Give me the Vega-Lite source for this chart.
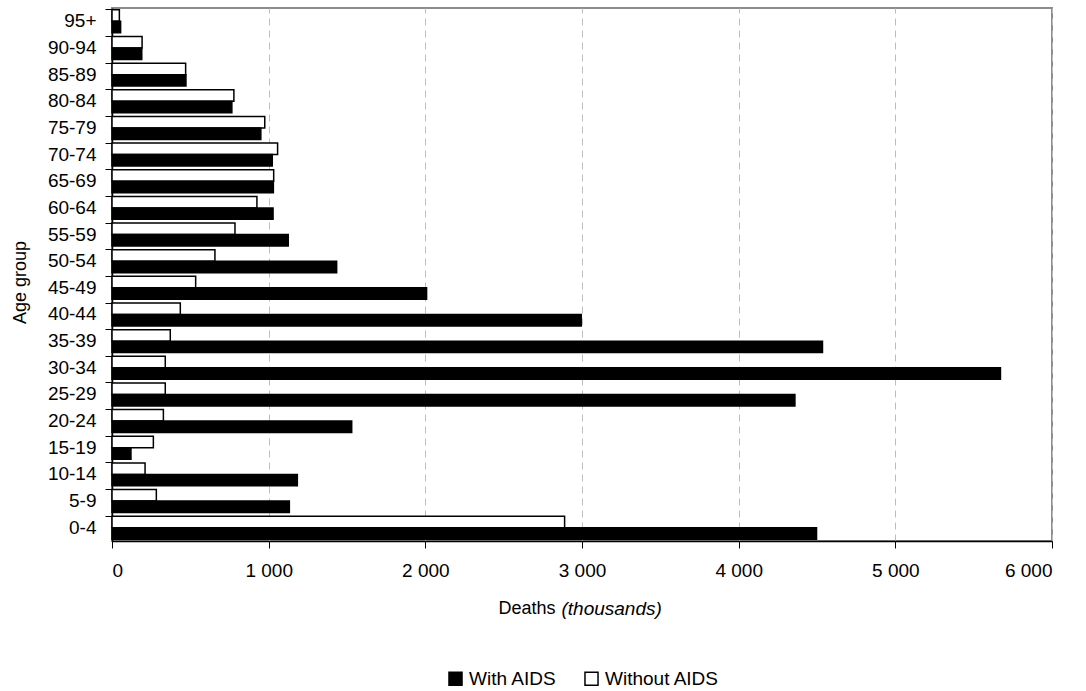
{
  "$schema": "https://vega.github.io/schema/vega-lite/v6.json",
  "width": 940,
  "height": 533,
  "autosize": {"type": "none"},
  "padding": {"left": 112, "top": 8, "right": 34, "bottom": 150},
  "background": "white",
  "config": {
    "font": "Liberation Sans",
    "view": {"stroke": "#8c8c8c", "strokeWidth": 2},
    "axis": {"labelFont": "Liberation Sans", "titleFont": "Liberation Sans", "labelColor": "black", "titleColor": "black", "labelFontSize": 19, "titleFontSize": 18, "titleFontWeight": "normal"}
  },
  "data": {
    "values": [
      {"group": "95+", "type": "Without AIDS", "value": 47},
      {"group": "95+", "type": "With AIDS", "value": 55},
      {"group": "90-94", "type": "Without AIDS", "value": 192},
      {"group": "90-94", "type": "With AIDS", "value": 190},
      {"group": "85-89", "type": "Without AIDS", "value": 470},
      {"group": "85-89", "type": "With AIDS", "value": 472},
      {"group": "80-84", "type": "Without AIDS", "value": 778},
      {"group": "80-84", "type": "With AIDS", "value": 765},
      {"group": "75-79", "type": "Without AIDS", "value": 975},
      {"group": "75-79", "type": "With AIDS", "value": 950},
      {"group": "70-74", "type": "Without AIDS", "value": 1057},
      {"group": "70-74", "type": "With AIDS", "value": 1023},
      {"group": "65-69", "type": "Without AIDS", "value": 1032},
      {"group": "65-69", "type": "With AIDS", "value": 1030},
      {"group": "60-64", "type": "Without AIDS", "value": 925},
      {"group": "60-64", "type": "With AIDS", "value": 1028},
      {"group": "55-59", "type": "Without AIDS", "value": 785},
      {"group": "55-59", "type": "With AIDS", "value": 1125},
      {"group": "50-54", "type": "Without AIDS", "value": 657},
      {"group": "50-54", "type": "With AIDS", "value": 1434},
      {"group": "45-49", "type": "Without AIDS", "value": 534},
      {"group": "45-49", "type": "With AIDS", "value": 2008},
      {"group": "40-44", "type": "Without AIDS", "value": 436},
      {"group": "40-44", "type": "With AIDS", "value": 2995},
      {"group": "35-39", "type": "Without AIDS", "value": 372},
      {"group": "35-39", "type": "With AIDS", "value": 4535},
      {"group": "30-34", "type": "Without AIDS", "value": 340},
      {"group": "30-34", "type": "With AIDS", "value": 5671},
      {"group": "25-29", "type": "Without AIDS", "value": 340},
      {"group": "25-29", "type": "With AIDS", "value": 4359},
      {"group": "20-24", "type": "Without AIDS", "value": 328},
      {"group": "20-24", "type": "With AIDS", "value": 1530},
      {"group": "15-19", "type": "Without AIDS", "value": 264},
      {"group": "15-19", "type": "With AIDS", "value": 121},
      {"group": "10-14", "type": "Without AIDS", "value": 211},
      {"group": "10-14", "type": "With AIDS", "value": 1183},
      {"group": "5-9", "type": "Without AIDS", "value": 283},
      {"group": "5-9", "type": "With AIDS", "value": 1132},
      {"group": "0-4", "type": "Without AIDS", "value": 2889},
      {"group": "0-4", "type": "With AIDS", "value": 4497}
    ]
  },
  "layer": [
    {
      "mark": {"type": "bar", "stroke": "black", "strokeWidth": 1.5, "cornerRadius": 0},
      "encoding": {
        "y": {
          "field": "group", "type": "nominal",
          "sort": ["95+","90-94","85-89","80-84","75-79","70-74","65-69","60-64","55-59","50-54","45-49","40-44","35-39","30-34","25-29","20-24","15-19","10-14","5-9","0-4"],
          "scale": {"paddingInner": 0.14, "paddingOuter": 0.07},
          "axis": {"title": "Age group", "titleFontSize": 18, "titleX": -92, "titleY": 274, "titleBaseline": "middle", "titleAlign": "center", "bandPosition": 0, "tickSize": 7, "tickColor": "black", "domainColor": "black", "domainWidth": 1.5, "labelPadding": 9, "grid": false}
        },
        "yOffset": {"field": "type", "type": "nominal", "sort": ["Without AIDS", "With AIDS"]},
        "x": {
          "field": "value", "type": "quantitative",
          "scale": {"domain": [0, 6000], "nice": false},
          "axis": {
            "title": "Deaths", "titleAlign": "left", "titleX": 386, "titleY": 67, "titleBaseline": "middle",
            "values": [0, 1000, 2000, 3000, 4000, 5000, 6000],
            "labelExpr": "replace(format(datum.value, ','), ',', ' ')",
            "tickSize": 7, "tickColor": "black", "domainColor": "black", "domainWidth": 1.5, "labelPadding": 13,
            "grid": true, "gridColor": "#bdbdbd", "gridDash": [7, 5], "gridWidth": 1
          }
        },
        "fill": {
          "field": "type", "type": "nominal",
          "scale": {"domain": ["With AIDS", "Without AIDS"], "range": ["black", "white"]},
          "legend": {
            "title": null, "orient": "none", "direction": "horizontal", "legendX": 334, "legendY": 661,
            "symbolType": "square", "symbolSize": 170, "symbolStrokeColor": "black", "symbolStrokeWidth": 1.5,
            "labelFontSize": 19, "labelFont": "Liberation Sans", "labelColor": "black", "labelOffset": 4, "columnPadding": 24
          }
        }
      }
    },
    {
      "mark": {"type": "tick", "opacity": 0},
      "encoding": {
        "y": {"field": "group", "type": "nominal", "sort": ["95+","90-94","85-89","80-84","75-79","70-74","65-69","60-64","55-59","50-54","45-49","40-44","35-39","30-34","25-29","20-24","15-19","10-14","5-9","0-4"]},
        "x": {
          "field": "value", "type": "quantitative",
          "axis": {"orient": "bottom", "title": "(thousands)", "titleFontSize": 19, "titleFontStyle": "italic", "titleAlign": "left", "titleX": 449, "titleY": 67, "titleBaseline": "middle", "labels": false, "ticks": false, "domain": false, "grid": false, "offset": 0}
        }
      }
    }
  ],
  "resolve": {"axis": {"x": "independent"}}
}
